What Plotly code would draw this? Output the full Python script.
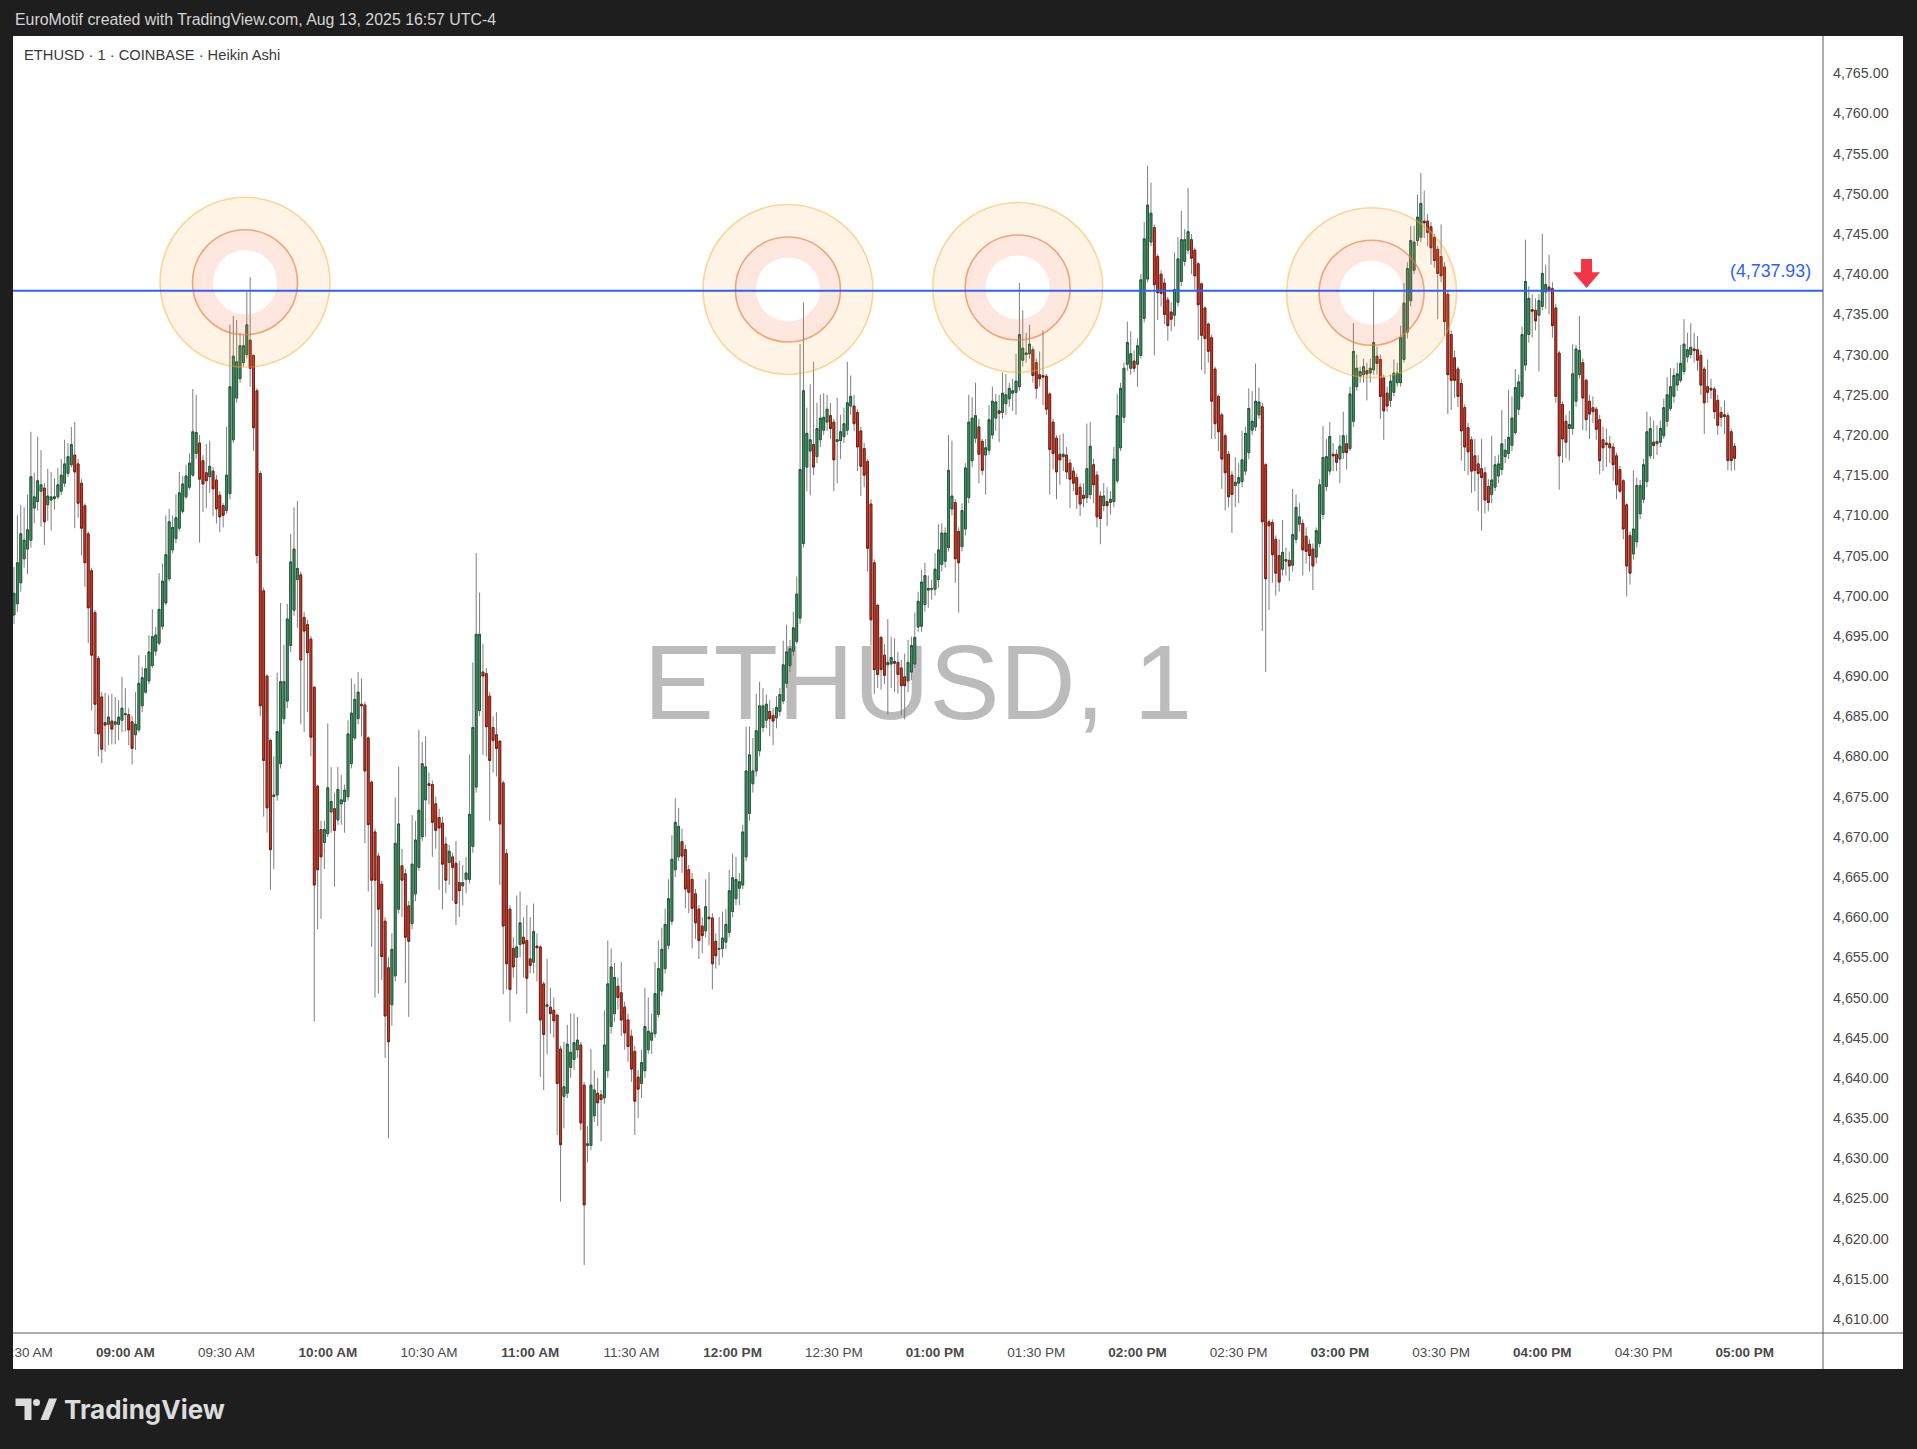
import plotly.graph_objects as go
import pandas as pd

# ---------------- data (Heikin Ashi, 1-minute) ----------------
opens = [
4697.6,4699.0,4701.6,4704.6,4705.8,4706.9,4710.9,4711.7,4713.0,4713.4,
4711.3,4711.9,4712.1,4712.3,4713.0,4714.0,4715.2,4716.3,4717.5,4716.4,
4714.0,4711.2,4707.7,4703.1,4697.9,4692.2,4687.4,4684.2,4684.0,4684.4,
4684.0,4684.0,4684.5,4685.2,4685.2,4684.3,4682.7,4683.3,4686.3,4688.0,
4689.4,4691.3,4693.1,4694.1,4696.2,4699.1,4702.1,4705.7,4707.1,4708.4,
4710.5,4712.3,4713.5,4715.0,4717.7,4719.0,4716.8,4715.3,4714.8,4715.5,
4714.4,4712.5,4711.2,4710.6,4712.7,4719.4,4724.6,4727.0,4729.0,4730.0,
4731.8,4729.9,4725.5,4715.2,4700.6,4690.0,4682.0,4675.0,4675.2,4679.1,
4684.7,4686.9,4693.8,4698.2,4702.0,4702.6,4697.3,4696.4,4694.6,4688.6,
4676.3,4670.9,4669.3,4670.4,4673.1,4673.5,4672.1,4674.1,4674.4,4675.0,
4679.1,4682.3,4684.7,4686.5,4686.4,4682.3,4676.8,4670.6,4667.6,4664.1,
4659.5,4653.7,4649.1,4652.7,4661.0,4666.4,4665.4,4661.4,4659.2,4662.9,
4666.2,4670.0,4674.6,4676.6,4676.5,4674.1,4672.4,4671.7,4669.1,4666.8,
4667.5,4666.7,4664.3,4663.9,4664.7,4664.7,4668.8,4676.2,4685.7,4690.5,
4690.3,4687.5,4683.6,4682.7,4681.9,4676.7,4667.9,4661.0,4656.1,4655.0,
4656.6,4657.5,4657.1,4654.8,4654.4,4656.4,4656.3,4651.7,4648.9,4648.8,
4648.4,4647.8,4643.6,4637.7,4638.1,4641.3,4642.3,4643.5,4644.1,4639.1,
4631.6,4631.6,4635.3,4638.1,4637.9,4637.5,4640.9,4646.4,4648.0,4651.4,
4650.6,4648.8,4647.2,4645.2,4643.3,4640.1,4639.3,4640.9,4643.5,4644.7,
4645.5,4647.9,4650.8,4653.6,4656.5,4659.5,4665.9,4667.5,4669.4,4668.4,
4665.9,4664.7,4662.9,4661.0,4658.9,4658.3,4660.0,4659.9,4657.0,4656.0,
4656.1,4656.9,4658.1,4660.7,4662.3,4663.6,4664.0,4667.5,4672.9,4676.6,
4678.2,4680.7,4683.6,4684.5,4685.6,4685.1,4684.8,4685.6,4686.9,4689.1,
4691.3,4693.1,4694.3,4697.2,4706.5,4716.0,4718.0,4718.8,4717.3,4719.4,
4720.6,4721.6,4722.4,4721.6,4719.2,4719.3,4719.8,4720.6,4723.6,4723.6,
4722.8,4720.5,4718.3,4716.7,4711.4,4704.1,4698.8,4694.8,4692.6,4691.4,
4691.5,4691.8,4691.7,4691.0,4689.9,4689.4,4690.5,4691.5,4696.1,4696.2,
4698.9,4700.7,4700.8,4700.8,4702.0,4703.9,4704.3,4706.0,4710.8,4711.6,
4708.0,4706.1,4708.3,4712.2,4716.8,4719.6,4721.0,4719.2,4717.5,4718.1,
4720.0,4722.1,4723.0,4722.8,4723.9,4724.5,4725.2,4725.3,4726.0,4729.3,
4730.0,4730.1,4730.6,4729.0,4727.5,4727.4,4727.3,4725.1,4721.6,4719.6,
4717.6,4717.3,4717.5,4716.5,4715.5,4714.7,4713.5,4712.5,4712.2,4712.6,
4716.3,4715.0,4712.4,4711.2,4711.7,4711.6,4711.7,4714.3,4718.4,4722.2,
4728.8,4728.3,4729.2,4728.8,4729.9,4734.5,4739.4,4744.0,4745.8,4742.2,
4740.0,4738.9,4736.8,4735.3,4734.9,4736.5,4739.1,4741.6,4743.0,4744.3,
4743.0,4741.3,4738.8,4735.8,4733.8,4732.1,4728.2,4724.8,4722.5,4719.9,
4717.6,4715.0,4713.7,4714.0,4714.2,4715.5,4717.8,4720.6,4721.0,4722.5,
4723.5,4716.3,4709.2,4709.1,4707.0,4705.0,4703.3,4704.3,4704.4,4703.8,
4707.0,4708.9,4709.0,4707.4,4706.4,4705.8,4704.8,4706.5,4710.1,4713.6,
4715.5,4717.6,4717.6,4717.0,4717.8,4718.9,4718.3,4721.7,4726.0,4727.3,
4727.5,4728.0,4727.7,4728.1,4729.8,4729.4,4727.1,4725.2,4724.3,4725.3,
4726.5,4726.5,4729.4,4732.8,4736.7,4740.5,4744.2,4744.6,4746.6,4746.6,
4745.9,4744.6,4743.1,4742.2,4740.9,4737.5,4732.5,4729.6,4728.2,4726.4,
4723.4,4720.9,4719.4,4717.4,4716.4,4715.8,4715.3,4713.6,4712.6,4713.5,
4714.9,4715.7,4717.3,4717.7,4718.7,4720.3,4723.2,4724.8,4728.7,4732.5,
4735.6,4735.5,4734.9,4736.0,4737.8,4738.4,4738.2,4735.8,4730.2,4723.8,
4721.7,4720.8,4720.8,4724.2,4727.5,4729.0,4726.8,4724.2,4723.4,4723.2,
4721.9,4719.4,4719.0,4718.9,4718.5,4717.4,4715.7,4714.3,4711.3,4707.5,
4705.2,4706.7,4710.2,4712.0,4714.2,4717.4,4719.1,4718.9,4719.1,4719.9,
4721.7,4723.3,4724.8,4726.2,4726.8,4727.9,4729.7,4730.0,4730.7,4730.6,
4729.9,4728.2,4726.0,4725.8,4725.7,4724.3,4722.8,4722.5,4722.4,4720.4,
4718.6]

highs = [
4703.6,4710.0,4711.3,4711.0,4712.6,4720.4,4715.3,4719.8,4718.1,4714.0,
4715.8,4715.4,4714.6,4715.9,4717.0,4719.4,4719.0,4721.0,4721.6,4717.0,
4714.5,4711.5,4708.0,4703.5,4698.2,4692.5,4688.0,4687.9,4687.6,4687.8,
4687.4,4687.0,4689.9,4688.5,4686.0,4685.0,4688.0,4692.6,4691.1,4692.6,
4695.1,4698.3,4696.1,4702.8,4704.0,4710.0,4710.8,4710.0,4712.6,4715.4,
4714.9,4716.3,4717.7,4725.7,4725.0,4720.0,4717.5,4718.9,4719.3,4716.0,
4715.0,4713.0,4711.5,4721.0,4733.7,4734.8,4734.3,4732.7,4732.5,4737.8,
4739.6,4730.0,4725.8,4715.5,4701.0,4690.2,4682.2,4680.0,4690.4,4699.1,
4693.9,4699.0,4707.7,4711.0,4711.8,4703.0,4698.0,4697.0,4695.0,4688.8,
4676.5,4672.0,4672.0,4684.1,4678.7,4675.5,4678.7,4677.7,4676.5,4684.5,
4689.7,4689.0,4690.5,4689.7,4686.8,4682.5,4677.0,4671.0,4668.0,4664.5,
4660.0,4655.0,4658.0,4674.9,4678.7,4668.5,4666.0,4662.0,4672.7,4672.0,
4683.3,4681.8,4682.5,4678.0,4677.0,4675.0,4673.5,4672.5,4670.0,4669.0,
4668.0,4669.5,4667.0,4666.5,4667.5,4680.2,4691.7,4705.3,4700.4,4694.0,
4691.0,4688.0,4685.0,4685.5,4682.0,4677.0,4668.5,4661.5,4657.5,4662.7,
4663.2,4660.0,4661.5,4660.0,4661.7,4658.0,4656.5,4652.0,4654.8,4651.2,
4650.0,4648.0,4644.0,4644.5,4646.6,4648.0,4648.0,4647.6,4644.5,4639.5,
4634.0,4643.6,4640.9,4640.0,4638.5,4648.4,4657.1,4656.1,4654.3,4652.5,
4654.4,4649.5,4648.0,4646.0,4644.0,4641.0,4643.5,4651.2,4650.0,4648.0,
4654.4,4657.1,4658.7,4661.1,4664.7,4670.2,4674.8,4673.6,4671.0,4669.0,
4666.5,4665.5,4663.5,4661.5,4660.0,4664.7,4665.6,4660.5,4658.0,4660.0,
4660.7,4661.0,4665.9,4667.9,4667.5,4665.5,4671.5,4683.7,4683.7,4682.3,
4687.8,4689.3,4688.5,4687.7,4687.0,4686.0,4687.5,4688.5,4694.4,4696.4,
4694.5,4698.0,4702.4,4731.3,4736.5,4723.4,4726.3,4729.1,4724.0,4725.0,
4725.2,4725.0,4724.0,4722.0,4724.6,4722.5,4723.4,4729.1,4727.4,4725.0,
4723.2,4721.0,4719.0,4717.0,4712.0,4704.5,4699.0,4695.0,4694.0,4697.1,
4694.9,4694.7,4693.0,4692.0,4692.8,4694.5,4694.9,4697.9,4700.5,4703.2,
4704.1,4702.5,4702.0,4705.3,4708.9,4709.0,4708.5,4720.0,4719.3,4712.0,
4708.5,4711.5,4716.5,4725.0,4724.7,4726.5,4722.0,4719.5,4719.5,4723.7,
4726.0,4725.1,4725.0,4727.8,4727.6,4726.5,4727.0,4730.1,4738.9,4735.5,
4732.7,4733.7,4731.0,4729.5,4730.4,4733.0,4727.6,4725.3,4722.0,4720.0,
4720.0,4720.2,4718.5,4717.0,4716.0,4715.2,4714.0,4714.0,4721.4,4721.6,
4717.0,4715.5,4713.0,4714.0,4713.5,4713.0,4718.5,4725.1,4726.5,4729.0,
4734.1,4732.9,4730.5,4732.0,4740.0,4746.5,4753.5,4751.4,4746.2,4742.5,
4740.5,4739.5,4737.2,4736.5,4742.7,4744.6,4747.9,4745.6,4750.7,4745.0,
4743.3,4741.5,4739.0,4736.0,4734.0,4732.5,4728.5,4725.0,4722.8,4720.2,
4718.0,4715.5,4717.2,4716.5,4720.5,4721.0,4725.8,4725.5,4728.9,4725.9,
4724.0,4716.5,4709.5,4709.5,4707.5,4707.0,4709.4,4706.0,4705.5,4713.3,
4712.6,4711.5,4709.5,4708.5,4707.0,4706.5,4708.5,4714.5,4721.1,4719.5,
4721.6,4719.0,4718.2,4720.0,4722.9,4720.0,4726.0,4733.9,4730.0,4728.5,
4729.5,4729.0,4729.5,4738.1,4731.0,4730.0,4727.5,4726.0,4727.5,4729.4,
4729.0,4733.6,4738.9,4741.5,4746.0,4746.0,4749.9,4752.6,4750.4,4747.5,
4746.5,4745.0,4743.5,4746.2,4741.5,4738.0,4733.0,4730.5,4728.5,4727.0,
4723.8,4721.5,4719.8,4719.5,4717.5,4719.5,4716.0,4714.5,4719.9,4717.4,
4717.5,4723.1,4719.5,4725.6,4724.8,4728.2,4727.5,4733.5,4744.3,4738.5,
4737.5,4737.0,4737.5,4745.0,4741.2,4742.4,4739.0,4736.3,4730.5,4724.2,
4722.5,4723.0,4731.3,4731.2,4734.8,4729.5,4727.0,4725.0,4724.8,4723.5,
4722.5,4721.0,4720.8,4719.9,4719.0,4717.8,4716.2,4714.5,4711.5,4708.0,
4715.6,4714.7,4714.4,4717.0,4722.9,4722.3,4721.8,4721.2,4721.8,4724.5,
4727.2,4728.3,4728.3,4729.0,4731.2,4734.4,4732.7,4733.9,4732.7,4732.3,
4730.5,4728.5,4729.4,4727.0,4726.0,4725.0,4723.5,4724.3,4722.8,4720.8,
4719.0]

lows = [
4696.5,4698.0,4700.5,4703.5,4702.7,4706.0,4709.0,4710.6,4708.6,4706.3,
4709.3,4708.1,4710.7,4712.0,4712.5,4713.5,4714.8,4716.0,4708.4,4709.7,
4705.0,4701.1,4694.1,4685.7,4682.8,4680.0,4679.2,4680.6,4681.4,4681.5,
4681.5,4682.0,4683.0,4683.1,4681.4,4679.0,4680.8,4683.0,4685.5,4687.8,
4689.0,4691.0,4692.5,4693.8,4695.8,4698.8,4701.8,4705.3,4706.5,4708.0,
4710.2,4712.0,4713.2,4714.8,4717.0,4706.6,4710.4,4710.9,4712.8,4709.9,
4709.0,4707.9,4708.5,4710.2,4712.0,4719.0,4724.0,4726.5,4728.5,4729.5,
4726.0,4718.0,4704.0,4685.0,4672.5,4670.5,4663.4,4666.0,4674.5,4678.5,
4684.0,4686.0,4693.0,4697.5,4696.0,4684.0,4683.0,4685.5,4680.0,4647.0,
4658.5,4659.8,4666.0,4670.0,4670.5,4663.8,4671.5,4671.5,4670.5,4674.5,
4678.5,4682.0,4684.0,4682.5,4669.2,4663.2,4656.3,4650.0,4650.5,4652.2,
4642.5,4632.5,4646.5,4652.0,4660.5,4660.0,4651.8,4647.6,4658.5,4662.0,
4665.8,4669.5,4670.0,4674.0,4667.5,4668.5,4663.4,4661.0,4663.0,4664.0,
4662.0,4659.0,4660.0,4661.5,4663.0,4664.2,4668.0,4675.5,4685.0,4680.2,
4680.0,4672.0,4678.0,4677.5,4664.0,4650.4,4651.0,4647.0,4652.5,4650.4,
4655.0,4652.5,4648.0,4653.0,4653.0,4652.0,4640.1,4638.5,4642.9,4645.5,
4645.0,4632.9,4624.6,4633.7,4637.5,4640.0,4641.0,4642.5,4633.5,4616.7,
4629.5,4631.0,4634.5,4634.0,4632.1,4636.8,4640.0,4645.5,4647.0,4648.5,
4645.2,4643.5,4642.0,4639.5,4632.9,4635.0,4637.5,4640.0,4643.0,4643.0,
4645.0,4647.5,4650.2,4653.0,4656.0,4659.0,4665.0,4667.0,4665.5,4661.1,
4660.5,4656.1,4657.3,4654.8,4655.5,4657.5,4656.5,4651.0,4653.6,4654.0,
4655.0,4656.0,4657.5,4660.0,4661.5,4661.5,4663.5,4667.0,4672.0,4675.5,
4677.5,4680.0,4683.0,4683.5,4682.5,4681.4,4683.5,4685.0,4686.5,4688.5,
4690.5,4692.5,4694.0,4696.5,4706.0,4713.0,4712.5,4715.0,4716.5,4718.5,
4720.0,4720.5,4719.5,4713.0,4714.0,4717.0,4719.0,4720.0,4722.5,4720.5,
4715.5,4712.4,4713.5,4703.0,4693.8,4687.8,4688.5,4688.3,4689.0,4685.2,
4688.5,4688.0,4687.8,4685.1,4684.6,4688.0,4689.5,4691.0,4695.5,4695.5,
4698.0,4698.5,4699.5,4700.0,4701.0,4703.0,4703.5,4705.5,4710.0,4701.6,
4697.9,4705.5,4707.5,4711.5,4716.0,4719.0,4714.0,4715.0,4712.6,4717.5,
4719.5,4720.5,4719.1,4722.0,4722.5,4723.5,4723.0,4722.5,4725.5,4728.5,
4729.0,4729.5,4726.5,4724.5,4726.0,4723.7,4722.5,4712.6,4715.7,4712.0,
4713.8,4715.5,4714.5,4710.9,4713.0,4710.8,4709.9,4711.0,4711.5,4712.0,
4711.5,4708.5,4706.4,4710.5,4708.7,4710.1,4711.0,4714.0,4718.0,4721.5,
4728.0,4727.5,4727.8,4726.0,4729.5,4734.0,4739.0,4743.5,4729.9,4734.3,
4736.0,4733.8,4731.7,4732.9,4733.5,4736.0,4738.5,4741.0,4742.5,4740.0,
4738.0,4731.8,4728.1,4727.6,4729.0,4719.5,4719.5,4718.0,4713.3,4710.6,
4711.0,4707.8,4711.0,4711.5,4713.5,4715.0,4717.0,4720.0,4720.5,4722.0,
4695.6,4690.5,4698.2,4701.6,4700.0,4700.5,4702.5,4702.5,4701.8,4703.0,
4706.5,4708.0,4702.5,4704.0,4703.0,4700.7,4704.0,4706.0,4709.5,4713.0,
4715.0,4715.5,4715.5,4714.0,4717.0,4715.7,4718.0,4721.0,4725.5,4726.5,
4726.5,4724.3,4726.5,4727.5,4727.5,4722.0,4719.4,4722.9,4723.5,4724.8,
4726.0,4726.0,4729.0,4732.0,4736.0,4740.0,4743.5,4744.0,4744.5,4743.5,
4741.2,4740.8,4734.4,4739.0,4732.3,4722.6,4723.1,4724.6,4723.5,4716.8,
4715.5,4715.0,4712.8,4713.0,4710.5,4708.1,4710.2,4710.5,4711.5,4713.0,
4714.0,4715.0,4716.5,4717.0,4718.0,4720.0,4722.5,4724.5,4728.0,4731.5,
4732.1,4733.0,4727.9,4735.5,4735.7,4735.0,4732.1,4724.0,4713.2,4716.5,
4717.1,4716.8,4720.0,4723.5,4727.0,4720.6,4720.5,4719.5,4721.5,4719.4,
4715.1,4715.5,4716.0,4716.5,4714.3,4712.0,4712.8,4707.0,4699.9,4701.4,
4704.5,4706.0,4709.5,4711.5,4713.5,4717.0,4717.0,4717.5,4718.5,4719.5,
4721.0,4723.0,4724.0,4725.5,4726.5,4727.5,4729.0,4729.5,4729.0,4728.0,
4725.0,4720.1,4724.0,4724.5,4722.0,4720.0,4721.0,4720.1,4715.6,4715.5,
4715.6]

closes = [
4700.3,4704.1,4707.7,4706.9,4708.2,4714.8,4712.3,4714.3,4713.8,4709.2,
4712.4,4712.3,4712.3,4713.8,4715.0,4716.4,4717.3,4718.8,4715.4,4711.5,
4708.4,4704.1,4698.5,4692.6,4686.5,4682.8,4680.9,4683.9,4684.9,4683.4,
4684.3,4684.9,4686.0,4685.3,4683.3,4681.0,4684.0,4689.1,4689.8,4690.9,
4693.0,4694.9,4695.1,4698.3,4701.8,4705.1,4709.2,4708.5,4709.7,4712.8,
4713.9,4714.9,4716.5,4720.4,4720.3,4714.5,4713.9,4714.3,4716.1,4713.3,
4710.8,4709.8,4710.0,4715.0,4726.0,4729.8,4729.1,4731.1,4731.1,4733.7,
4728.3,4720.9,4705.0,4686.3,4679.5,4673.6,4668.4,4675.2,4683.1,4689.3,
4689.3,4697.1,4704.2,4705.8,4703.4,4692.0,4695.6,4692.9,4682.4,4664.0,
4665.9,4667.5,4670.9,4676.1,4674.4,4670.8,4675.9,4674.6,4675.8,4682.8,
4685.4,4687.1,4688.0,4686.3,4678.2,4671.5,4664.6,4664.6,4661.0,4655.1,
4647.7,4644.5,4656.0,4669.2,4671.6,4664.6,4657.5,4657.0,4666.6,4669.6,
4673.3,4679.1,4678.7,4676.4,4671.8,4670.8,4671.1,4666.6,4664.6,4668.2,
4666.2,4661.7,4663.3,4664.3,4665.5,4672.8,4683.6,4695.2,4695.2,4690.0,
4683.7,4679.5,4682.0,4681.0,4671.6,4658.9,4654.2,4651.0,4653.8,4656.3,
4659.3,4656.7,4652.4,4654.0,4658.2,4656.2,4647.2,4645.4,4649.1,4648.0,
4647.1,4639.3,4631.7,4638.9,4644.2,4643.2,4644.4,4644.7,4634.4,4624.2,
4631.8,4639.1,4638.5,4636.9,4637.3,4644.1,4651.7,4653.8,4652.5,4650.0,
4647.2,4645.6,4643.9,4641.1,4637.1,4638.6,4641.9,4646.4,4645.8,4645.6,
4650.5,4653.6,4656.0,4659.1,4662.3,4667.2,4671.8,4671.3,4667.6,4663.5,
4663.1,4661.1,4659.3,4657.1,4657.7,4661.3,4659.8,4654.2,4655.2,4656.1,
4657.4,4659.1,4663.3,4664.9,4664.7,4664.4,4670.6,4678.2,4680.2,4678.2,
4683.2,4686.3,4686.3,4686.5,4684.7,4684.4,4686.1,4687.7,4691.4,4693.0,
4693.4,4696.0,4700.2,4715.7,4725.5,4720.2,4719.4,4716.0,4720.8,4722.1,
4722.2,4723.2,4720.8,4716.9,4719.4,4720.4,4721.4,4724.0,4724.8,4721.4,
4718.5,4716.1,4715.0,4705.9,4697.0,4690.8,4690.2,4690.8,4690.1,4691.7,
4692.3,4691.6,4690.2,4688.8,4688.8,4691.7,4693.8,4694.8,4699.3,4701.7,
4702.5,4700.9,4700.9,4703.3,4705.7,4707.8,4707.8,4715.6,4712.4,4704.6,
4704.1,4710.6,4715.9,4721.6,4722.1,4722.4,4717.6,4715.6,4718.4,4721.9,
4724.2,4724.1,4722.7,4725.2,4725.0,4725.8,4725.5,4726.7,4732.5,4730.8,
4730.2,4731.3,4727.4,4725.8,4727.0,4727.2,4723.2,4718.2,4717.7,4715.4,
4716.9,4717.6,4715.4,4714.5,4714.0,4712.6,4711.4,4712.1,4715.8,4718.6,
4713.8,4709.8,4709.6,4712.4,4711.2,4712.0,4717.0,4722.4,4725.8,4728.3,
4731.5,4730.1,4728.3,4731.1,4739.3,4744.4,4748.6,4747.6,4738.7,4737.7,
4737.6,4735.0,4733.6,4734.4,4738.1,4741.9,4744.3,4744.3,4745.3,4742.0,
4739.8,4736.2,4732.4,4732.0,4730.4,4724.2,4721.4,4720.4,4717.0,4715.3,
4712.3,4712.6,4714.1,4714.7,4716.9,4720.2,4723.3,4721.7,4724.2,4724.1,
4709.2,4702.1,4708.7,4705.1,4702.8,4701.7,4705.4,4704.5,4703.7,4707.6,
4711.0,4709.8,4705.7,4705.5,4705.0,4703.7,4708.1,4713.8,4717.2,4717.3,
4719.8,4717.4,4716.6,4718.6,4719.9,4717.8,4725.1,4730.4,4728.3,4727.9,
4728.5,4727.6,4728.3,4731.5,4728.9,4724.8,4723.0,4723.6,4726.7,4727.7,
4727.7,4732.1,4736.4,4740.7,4744.2,4744.0,4747.1,4748.8,4746.4,4745.2,
4743.3,4741.7,4740.1,4739.8,4734.1,4727.5,4726.8,4726.8,4724.8,4720.5,
4718.5,4717.9,4715.5,4715.6,4715.2,4714.7,4711.9,4711.6,4714.4,4716.3,
4716.4,4718.9,4718.1,4719.7,4722.1,4725.9,4726.6,4732.5,4739.1,4737.0,
4735.4,4734.2,4736.7,4740.1,4738.7,4738.0,4733.6,4724.8,4717.4,4719.5,
4719.1,4721.3,4727.6,4730.7,4730.5,4724.6,4721.9,4722.6,4722.9,4720.7,
4716.8,4718.4,4718.8,4718.4,4716.3,4713.8,4713.0,4708.3,4703.7,4702.8,
4708.3,4713.7,4713.7,4716.3,4720.4,4720.8,4718.7,4719.2,4720.8,4723.4,
4725.0,4726.0,4727.4,4727.6,4728.9,4731.3,4730.6,4730.9,4730.5,4729.3,
4726.2,4724.0,4725.3,4725.6,4722.9,4721.2,4722.2,4722.3,4716.8,4716.8,
4717.1]

first_bar = "2025-08-13 08:27"
price_ticks = list(range(4610, 4770, 5))
time_ticks = pd.date_range("2025-08-13 08:30", "2025-08-13 17:00", freq="30min")

level_price = 4737.93
circle_times = ["2025-08-13 09:35:28", "2025-08-13 12:16:24", "2025-08-13 13:24:30", "2025-08-13 15:09:24"]
circle_prices = [4739.0, 4738.1, 4738.35, 4737.7]
arrow_time = "2025-08-13 16:13:07"
arrow_tip_price = 4738.3

# ---------------- figure ----------------
W, H = 1917, 1449
L, R, T, B = 13, 94, 36, 116          # plot area: x 13..1823, y 36..1333
pw, ph = W - L - R, H - T - B

def px_x(p):  # pixel x -> paper
    return (p - L) / pw

def px_y(p):  # pixel y -> paper
    return (H - B - p) / ph

times = pd.date_range(first_bar, periods=len(closes), freq="min")
body_hi = [max(o, c) for o, c in zip(opens, closes)]
body_lo = [min(o, c) for o, c in zip(opens, closes)]

UP_FILL, UP_LINE = "#4D9A6C", "#1F5A3A"
DN_FILL, DN_LINE = "#D9412D", "#7A1C12"
WICK = "#7E7E7E"

fig = go.Figure()
# wicks (gray)
fig.add_trace(go.Candlestick(
    x=times, open=opens, high=highs, low=lows, close=closes,
    increasing=dict(line=dict(color=WICK, width=1), fillcolor=WICK),
    decreasing=dict(line=dict(color=WICK, width=1), fillcolor=WICK),
    whiskerwidth=0, hoverinfo="skip", showlegend=False))
# bodies
fig.add_trace(go.Candlestick(
    x=times, open=opens, high=body_hi, low=body_lo, close=closes,
    increasing=dict(line=dict(color=UP_LINE, width=1), fillcolor=UP_FILL),
    decreasing=dict(line=dict(color=DN_LINE, width=1), fillcolor=DN_FILL),
    whiskerwidth=0, hoverinfo="skip", showlegend=False))

t0 = pd.Timestamp(first_bar)
x_range = [t0 - pd.Timedelta(seconds=18), t0 + pd.Timedelta(minutes=536.2)]

shapes = []
x_right = px_x(1903)
y_bottom = px_y(1369)
# white axis panels
shapes.append(dict(type="rect", xref="paper", yref="paper", x0=1, x1=x_right, y0=y_bottom, y1=1,
                   fillcolor="white", line=dict(width=0), layer="below"))
shapes.append(dict(type="rect", xref="paper", yref="paper", x0=0, x1=x_right, y0=y_bottom, y1=0,
                   fillcolor="white", line=dict(width=0), layer="below"))
# watermark (below candles)
shapes.append(dict(type="rect", xref="paper", yref="paper",
                   x0=px_x(600), x1=px_x(1236), y0=px_y(730), y1=px_y(615),
                   line=dict(width=0), fillcolor="rgba(0,0,0,0)", layer="below",
                   label=dict(text="ETHUSD, 1", textposition="middle center",
                              font=dict(family="Liberation Sans, Arial, sans-serif", size=105, color="#BBBBBB"))))

# circles
for ct, cp in zip(circle_times, circle_prices):
    base = dict(type="circle", xref="x", yref="y", xsizemode="pixel", ysizemode="pixel",
                xanchor=ct, yanchor=cp, fillcolor="rgba(0,0,0,0)", layer="above")
    for r, w, col in [(68.75, 32.5, "rgba(255,167,38,0.12)"),
                      (42.25, 20.5, "rgba(242,120,80,0.18)"),
                      (85, 1.6, "rgba(255,167,38,0.45)"),
                      (52.5, 1.6, "rgba(238,125,60,0.65)")]:
        s = dict(base)
        s.update(x0=-r, x1=r, y0=-r, y1=r, line=dict(color=col, width=w))
        shapes.append(s)

# horizontal level
shapes.append(dict(type="line", xref="paper", yref="y", x0=0, x1=1, y0=level_price, y1=level_price,
                   line=dict(color="#2962FF", width=2), layer="above"))

# red arrow (data coordinates)
ta = pd.Timestamp(arrow_time)
def dstr(mins):
    return (ta + pd.Timedelta(minutes=mins)).strftime("%Y-%m-%d_%H:%M:%S")
p_top, p_base = arrow_tip_price + 3.6, arrow_tip_price + 1.96
arrow_path = (f"M {dstr(-1.63)},{p_top} L {dstr(1.63)},{p_top} L {dstr(1.63)},{p_base} "
              f"L {dstr(4.0)},{p_base} L {dstr(0)},{arrow_tip_price} L {dstr(-4.0)},{p_base} "
              f"L {dstr(-1.63)},{p_base} Z")
shapes.append(dict(type="path", xref="x", yref="y", path=arrow_path,
                   fillcolor="#F23645", line=dict(width=0), layer="above"))

# frame lines
shapes.append(dict(type="line", xref="paper", yref="paper", x0=1, x1=1, y0=y_bottom, y1=1,
                   line=dict(color="#5A5A5A", width=1), layer="above"))
shapes.append(dict(type="line", xref="paper", yref="paper", x0=0, x1=x_right, y0=0, y1=0,
                   line=dict(color="#5A5A5A", width=1), layer="above"))
# clip the cut-off first time label at the left edge
shapes.append(dict(type="rect", xref="paper", yref="paper", x0=-L / pw, x1=0, y0=y_bottom, y1=0,
                   fillcolor="#1E1E1E", line=dict(width=0), layer="above"))

annotations = [
    dict(text="EuroMotif created with TradingView.com, Aug 13, 2025 16:57 UTC-4",
         xref="paper", yref="paper", x=px_x(13), y=px_y(19), xanchor="left", yanchor="middle",
         showarrow=False, font=dict(family="Liberation Sans, Arial, sans-serif", size=15.9, color="#D6D6D6")),
    dict(text="ETHUSD · 1 · COINBASE · Heikin Ashi",
         xref="paper", yref="paper", x=px_x(22), y=px_y(55.5), xanchor="left", yanchor="middle",
         showarrow=False, font=dict(family="Liberation Sans, Arial, sans-serif", size=14.7, color="#3A3A3A")),
    dict(text="(4,737.93)", xref="paper", yref="y", x=1, y=level_price, xanchor="right", yanchor="middle",
         xshift=-10, yshift=19.5, showarrow=False,
         font=dict(family="Liberation Sans, Arial, sans-serif", size=17.8, color="#2962FF")),
    dict(text="<b>TradingView</b>", xref="paper", yref="paper", x=px_x(62), y=px_y(1409),
         xanchor="left", yanchor="middle", showarrow=False,
         font=dict(family="Inter, Liberation Sans, sans-serif", size=26, color="#DCDCDC")),
]

# TradingView logo mark
logo = "#DCDCDC"
def pp(x, y):
    return f"{px_x(x):.5f},{px_y(y):.5f}"
shapes.append(dict(type="path", xref="paper", yref="paper", fillcolor=logo, line=dict(width=0), layer="above",
                   path=f"M {pp(15.5,1398.5)} L {pp(31.5,1398.5)} L {pp(31.5,1420)} L {pp(24.5,1420)} "
                        f"L {pp(24.5,1406)} L {pp(15.5,1406)} Z"))
shapes.append(dict(type="circle", xref="paper", yref="paper", fillcolor=logo, line=dict(width=0), layer="above",
                   x0=px_x(33), x1=px_x(40), y0=px_y(1399), y1=px_y(1406)))
shapes.append(dict(type="path", xref="paper", yref="paper", fillcolor=logo, line=dict(width=0), layer="above",
                   path=f"M {pp(40.5,1420)} L {pp(48.5,1420)} L {pp(57,1398.5)} L {pp(49,1398.5)} Z"))

tick_text = [f"<b>{t.strftime('%I:%M %p')}</b>" if t.minute == 0 else t.strftime('%I:%M %p') for t in time_ticks]

fig.update_layout(
    width=W, height=H, autosize=False,
    margin=dict(l=L, r=R, t=T, b=B, pad=0, autoexpand=False),
    paper_bgcolor="#1E1E1E", plot_bgcolor="#FFFFFF",
    showlegend=False, hovermode=False, boxgap=0.22,
    shapes=shapes, annotations=annotations,
    font=dict(family="Liberation Sans, Arial, sans-serif"),
    xaxis=dict(type="date", range=x_range, rangeslider=dict(visible=False), showgrid=False, zeroline=False,
               tickmode="array", tickvals=list(time_ticks), ticktext=tick_text, ticks="",
               ticklabelstandoff=9, ticklabeloverflow="allow", automargin=False,
               tickfont=dict(size=13.5, color="#4A4A4A"), fixedrange=True, showline=False),
    yaxis=dict(side="right", range=[4608.26, 4769.64], showgrid=False, zeroline=False,
               tickmode="array", tickvals=price_ticks, ticktext=[f"{v:,.2f}" for v in price_ticks],
               ticks="", ticklabelstandoff=9, tickfont=dict(size=14.3, color="#4A4A4A"),
               automargin=False, fixedrange=True, showline=False),
)

fig.write_html("out.html", include_plotlyjs=True, config={"displayModeBar": False},
               post_script="document.body.style.margin='0';document.body.style.overflow='hidden';")
